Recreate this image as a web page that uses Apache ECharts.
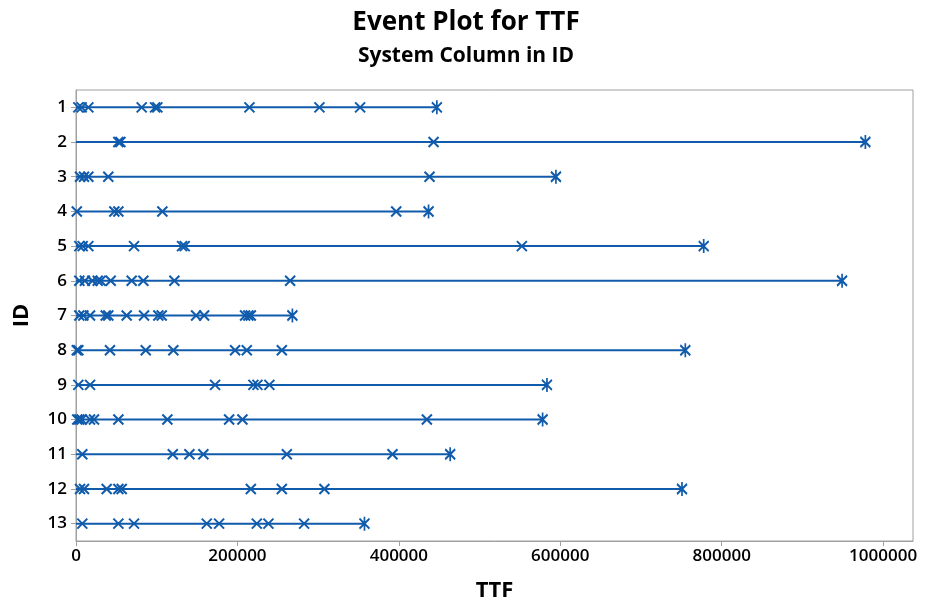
<!DOCTYPE html>
<html>
<head>
<meta charset="utf-8">
<script src="https://cdn.jsdelivr.net/npm/echarts@6/dist/echarts.min.js"></script>
<style>html,body{margin:0;padding:0;background:#fff}#chart{width:932px;height:604px}</style>
</head>
<body>
<div id="chart"></div>
<script>
const ids = ['1','2','3','4','5','6','7','8','9','10','11','12','13'];
const endTimes = [447100, 978000, 594600, 436800, 777700, 949100, 268100, 754900, 583500, 578100, 463600, 750800, 357400];
const ev1 = [2900, 7000, 15300, 81400, 98000, 100800, 214900, 301600, 352000];
const ev2 = [52500, 55000, 443000];
const ev3 = [5000, 9900, 15300, 40000, 438000];
const ev4 = [1000, 47500, 52500, 107000, 396700];
const ev5 = [4100, 8300, 15300, 71900, 131400, 134700, 552400];
const ev6 = [4100, 11000, 20200, 26900, 30600, 43000, 69000, 83400, 121900, 265300];
const ev7 = [4100, 9100, 17400, 36800, 40000, 62800, 84300, 102000, 106200, 148800, 158700, 209500, 213600, 216600];
const ev8 = [1000, 2900, 42100, 86400, 120600, 197100, 211600, 255000];
const ev9 = [2900, 17400, 172300, 219800, 224800, 239600];
const ev10 = [1600, 4100, 7000, 17400, 22300, 52500, 113200, 189700, 206200, 434700];
const ev11 = [7800, 119900, 140500, 157800, 261200, 392100];
const ev12 = [5000, 9900, 38000, 52500, 56600, 216600, 255000, 307800];
const ev13 = [7800, 52500, 71900, 162000, 177300, 224000, 238400, 282600];
const eventLists = [ev1, ev2, ev3, ev4, ev5, ev6, ev7, ev8, ev9, ev10, ev11, ev12, ev13];
const xTicks = [0, 200000, 400000, 600000, 800000, 1000000];
const xMax = 1037000;

const blue = '#105BAB';
const font = '"Open Sans", "Noto Sans", sans-serif';

const series = [];
ids.forEach((id, i) => {
  series.push({
    type: 'line',
    data: [[0, id], [endTimes[i], id]],
    showSymbol: false,
    symbol: 'none',
    lineStyle: { color: blue, width: 2 },
    silent: true,
    z: 1
  });
});
const evData = [];
eventLists.forEach((lst, i) => lst.forEach(v => evData.push([v, ids[i]])));
series.push({
  type: 'scatter',
  data: evData,
  symbol: 'path://M0,0L10,10M10,0L0,10',
  symbolSize: 10,
  itemStyle: { color: 'rgba(0,0,0,0)', borderColor: blue, borderWidth: 2, opacity: 1 },
  z: 3
});
series.push({
  type: 'scatter',
  data: endTimes.map((v, i) => [v, ids[i]]),
  symbol: 'path://M0,0L10,10M10,0L0,10M5,-2L5,12',
  symbolSize: [10, 14],
  itemStyle: { color: 'rgba(0,0,0,0)', borderColor: blue, borderWidth: 2, opacity: 1 },
  z: 4
});

const chart = echarts.init(document.getElementById('chart'), null, { renderer: 'canvas' });
chart.setOption({
  animation: false,
  backgroundColor: '#fff',
  title: {
    text: 'Event Plot for TTF',
    subtext: 'System Column in ID',
    left: 'center',
    top: 5,
    itemGap: 10,
    textStyle: { fontFamily: font, fontSize: 26, fontWeight: 'bold', color: '#000' },
    subtextStyle: { fontFamily: font, fontSize: 21, fontWeight: 'bold', color: '#000' }
  },
  grid: {
    left: 76, right: 19, top: 90, bottom: 63,
    outerBoundsMode: 'none',
    containLabel: false,
    show: true, borderColor: '#a0a0a0', borderWidth: 1, backgroundColor: '#fff'
  },
  xAxis: {
    type: 'value',
    min: 0,
    max: xMax,
    name: 'TTF',
    nameLocation: 'middle',
    nameGap: 39,
    nameTextStyle: { fontFamily: font, fontSize: 22, fontWeight: 'bold', color: '#000' },
    axisLine: { show: true, lineStyle: { color: '#a0a0a0', width: 1 } },
    axisTick: { show: true, length: 5, customValues: xTicks, lineStyle: { color: '#a0a0a0' } },
    axisLabel: { customValues: xTicks, formatter: v => String(v), fontFamily: font, fontSize: 17, fontWeight: 600, color: '#000', margin: 7 },
    splitLine: { show: false }
  },
  yAxis: {
    type: 'category',
    data: ids,
    inverse: true,
    name: 'ID',
    nameLocation: 'middle',
    nameGap: 43,
    nameRotate: 90,
    nameTextStyle: { fontFamily: font, fontSize: 22, fontWeight: 'bold', color: '#000' },
    axisLine: { show: true, lineStyle: { color: '#a0a0a0', width: 1 } },
    axisTick: { show: true, alignWithLabel: true, length: 5, lineStyle: { color: '#a0a0a0' } },
    axisLabel: { fontFamily: font, fontSize: 17, fontWeight: 600, color: '#000', margin: 9 },
    splitLine: { show: false }
  },
  series: series
});
</script>
</body>
</html>
